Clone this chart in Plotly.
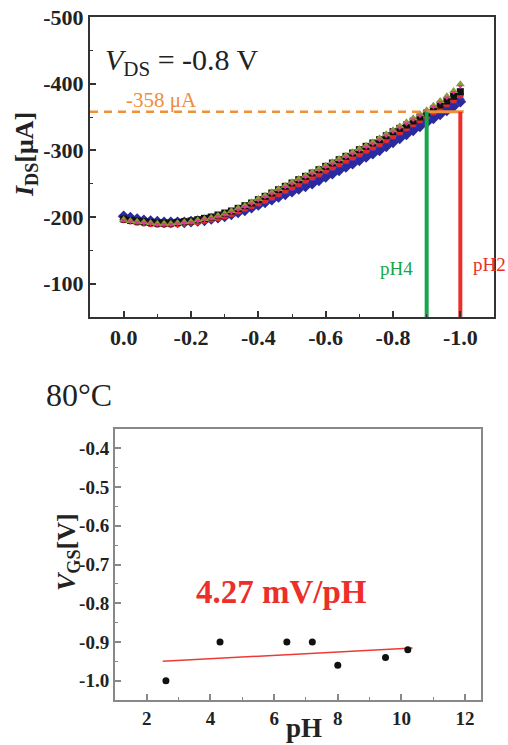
import plotly.graph_objects as go

# ---------------- data: top panel (transfer curves, VDS = -0.8 V) ----------------
vgs = [0.0, -0.02, -0.04, -0.06, -0.08, -0.10, -0.12, -0.14, -0.16, -0.18,
       -0.20, -0.22, -0.24, -0.26, -0.28, -0.30, -0.32, -0.34, -0.36, -0.38,
       -0.40, -0.42, -0.44, -0.46, -0.48, -0.50, -0.52, -0.54, -0.56, -0.58,
       -0.60, -0.62, -0.64, -0.66, -0.68, -0.70, -0.72, -0.74, -0.76, -0.78,
       -0.80, -0.82, -0.84, -0.86, -0.88, -0.90, -0.92, -0.94, -0.96, -0.98, -1.00]

ids_black = [-197, -195, -194, -193, -192, -191, -191, -191, -192, -193, -194, -196, -198, -200, -203, -206, -209,
             -213, -217, -221, -226, -231, -236, -241, -246, -251, -256, -261, -266, -271, -276, -281, -286, -291,
             -296, -301, -306, -311, -316, -322, -328, -333, -338, -344, -350, -356, -362, -368, -374, -381, -388]
ids_olive = [-196, -194, -193, -192, -191, -190, -190, -190, -191, -192, -193, -195, -197, -199, -202, -205, -209,
             -213, -217, -222, -227, -232, -237, -242, -247, -252, -257, -262, -267, -272, -277, -282, -287, -292,
             -297, -302, -307, -312, -318, -324, -330, -336, -342, -348, -354, -360, -367, -374, -381, -389, -399]
ids_magenta = [-195, -193, -192, -191, -190, -189, -189, -189, -190, -191, -192, -194, -196, -198, -201, -204, -207,
               -211, -215, -220, -225, -230, -235, -240, -245, -250, -255, -260, -265, -270, -275, -280, -285, -290,
               -295, -300, -305, -310, -316, -322, -328, -334, -340, -346, -352, -358, -365, -372, -379, -387, -396]
ids_red = [-196, -194, -192, -191, -190, -189, -189, -189, -190, -191, -192, -193, -195, -197, -199, -202, -205,
           -209, -213, -217, -221, -225, -230, -235, -240, -245, -250, -255, -260, -265, -270, -275, -280, -285,
           -290, -295, -300, -305, -310, -316, -322, -328, -334, -340, -346, -352, -358, -364, -370, -376, -383]
ids_blue = [-198, -196, -195, -194, -193, -192, -191, -191, -191, -192, -193, -194, -195, -197, -199, -201, -204,
            -207, -211, -215, -219, -223, -227, -232, -237, -242, -247, -252, -257, -262, -267, -272, -277, -282,
            -287, -292, -297, -302, -307, -313, -319, -325, -331, -337, -343, -349, -355, -361, -367, -373, -379]
ids_navy = [-201, -199, -197, -195, -194, -193, -192, -192, -192, -192, -193, -194, -195, -197, -199, -201, -204,
            -207, -210, -214, -218, -222, -226, -230, -234, -238, -242, -246, -250, -255, -260, -265, -270, -275,
            -280, -285, -290, -295, -300, -306, -312, -318, -324, -330, -336, -342, -348, -354, -360, -366, -373]

threshold_current = -358          # µA
crossing_ph4 = -0.9               # V
crossing_ph2 = -1.0               # V

top_x_ticks = [0.0, -0.2, -0.4, -0.6, -0.8, -1.0]
top_x_labels = ["0.0", "-0.2", "-0.4", "-0.6", "-0.8", "-1.0"]
top_x_minor = [-0.1, -0.3, -0.5, -0.7, -0.9]
top_y_ticks = [-100, -200, -300, -400, -500]
top_y_labels = ["-100", "-200", "-300", "-400", "-500"]
top_y_minor = [-150, -250, -350, -450]

# ---------------- data: bottom panel (80 °C sensitivity) ----------------
ph_values = [2.6, 4.3, 6.4, 7.2, 8.0, 9.5, 10.2]
vgs_values = [-1.00, -0.90, -0.90, -0.90, -0.96, -0.94, -0.92]
fit_ph = [2.5, 10.35]
fit_vgs = [-0.950, -0.916]

bot_x_ticks = [2, 4, 6, 8, 10, 12]
bot_x_labels = ["2", "4", "6", "8", "10", "12"]
bot_x_minor = [3, 5, 7, 9, 11]
bot_y_ticks = [-0.4, -0.5, -0.6, -0.7, -0.8, -0.9, -1.0]
bot_y_labels = ["-0.4", "-0.5", "-0.6", "-0.7", "-0.8", "-0.9", "-1.0"]
bot_y_minor = [-0.45, -0.55, -0.65, -0.75, -0.85, -0.95]

SERIF = "Liberation Serif"
W, H = 508, 745

fig = go.Figure()

series = [
    (ids_navy, "#2a2a9c", "diamond", 9),
    (ids_blue, "#2b34c8", "triangle-up", 8),
    (ids_red, "#e02a2a", "circle", 7),
    (ids_black, "#111111", "square", 7),
    (ids_olive, "#8d9a35", "triangle-up", 8),
    (ids_magenta, "#e2329c", "triangle-down", 5),
]
for ys, col, sym, sz in series:
    fig.add_trace(go.Scatter(x=vgs, y=ys, mode="markers", xaxis="x", yaxis="y",
                             marker=dict(color=col, symbol=sym, size=sz, line=dict(width=0)),
                             showlegend=False, hoverinfo="skip"))

# threshold line (dashed to pH4 crossing, solid between crossings)
fig.add_trace(go.Scatter(x=[0.1, crossing_ph4], y=[threshold_current, threshold_current], mode="lines",
                         xaxis="x", yaxis="y", line=dict(color="#f0913a", width=2.5, dash="8px,6px"),
                         showlegend=False, hoverinfo="skip"))
fig.add_trace(go.Scatter(x=[crossing_ph4, crossing_ph2 - 0.01], y=[threshold_current, threshold_current],
                         mode="lines", xaxis="x", yaxis="y", line=dict(color="#f0913a", width=3),
                         showlegend=False, hoverinfo="skip"))
fig.add_trace(go.Scatter(x=[crossing_ph4, crossing_ph4], y=[threshold_current, -50], mode="lines",
                         xaxis="x", yaxis="y", line=dict(color="#17a64a", width=4),
                         showlegend=False, hoverinfo="skip"))
fig.add_trace(go.Scatter(x=[crossing_ph2, crossing_ph2], y=[threshold_current, -50], mode="lines",
                         xaxis="x", yaxis="y", line=dict(color="#ea2e2a", width=4),
                         showlegend=False, hoverinfo="skip"))

# bottom panel
fig.add_trace(go.Scatter(x=fit_ph, y=fit_vgs, mode="lines", xaxis="x2", yaxis="y2",
                         line=dict(color="#ee3a36", width=1.5), showlegend=False, hoverinfo="skip"))
fig.add_trace(go.Scatter(x=ph_values, y=vgs_values, mode="markers", xaxis="x2", yaxis="y2",
                         marker=dict(color="#111111", size=7), showlegend=False, hoverinfo="skip"))


def axis(domain, anchor, rng, tv, tt, minor, size, lc):
    return dict(domain=domain, anchor=anchor, range=rng, tickmode="array", tickvals=tv, ticktext=tt,
                automargin=False,
                ticks="inside", ticklen=6, tickwidth=1.5, tickcolor=lc,
                minor=dict(tickvals=minor, ticks="inside", ticklen=3, tickwidth=1.2, tickcolor=lc),
                showline=True, linecolor=lc, linewidth=2, mirror=True, showgrid=False, zeroline=False,
                tickfont=dict(family=SERIF, size=size, color="#222", weight="bold"))


fig.update_layout(
    width=W, height=H, autosize=False,
    margin=dict(l=0, r=0, t=0, b=0),
    paper_bgcolor="white", plot_bgcolor="white",
    xaxis=axis([90 / W, 494 / W], "y", [0.1, -1.1], top_x_ticks, top_x_labels, top_x_minor, 22, "#333"),
    yaxis=axis([1 - 317 / H, 1 - 17 / H], "x", [-50, -500], top_y_ticks, top_y_labels, top_y_minor, 22, "#333"),
    xaxis2=axis([115 / W, 481 / W], "y2", [1, 12.5], bot_x_ticks, bot_x_labels, bot_x_minor, 19, "#888"),
    yaxis2=axis([1 - 700 / H, 1 - 429 / H], "x2", [-1.05, -0.35], bot_y_ticks, bot_y_labels, bot_y_minor, 19, "#888"),
)


def ann(text, x, y, size, color="#222", xanchor="left", angle=0, bold=False):
    fig.add_annotation(text=text, x=x / W, y=1 - y / H, xref="paper", yref="paper", showarrow=False,
                       xanchor=xanchor, yanchor="middle", textangle=angle,
                       font=dict(family=SERIF, size=size, color=color, weight="bold" if bold else "normal"))


ann("<i>V</i><sub>DS</sub> = -0.8 V", 103, 62, 30)
ann("-358 μA", 124, 100, 21, "#ef8d3a")
ann("pH4", 396, 268, 19, "#17a64a", xanchor="center")
ann("pH2", 471, 264, 19, "#ea2e2a")
ann("<i>I</i><sub>DS</sub>[μA]", 8, 155, 26, angle=-90, bold=True)
ann("80°C", 44, 395, 32)
ann("4.27 mV/pH", 281, 592, 33, "#ec2f2a", xanchor="center", bold=True)
ann("<i>V</i><sub>GS</sub>[V]", 50, 552, 26, angle=-90, bold=True)
ann("pH", 304, 728, 27, xanchor="center", bold=True)

fig.write_html("out.html")
